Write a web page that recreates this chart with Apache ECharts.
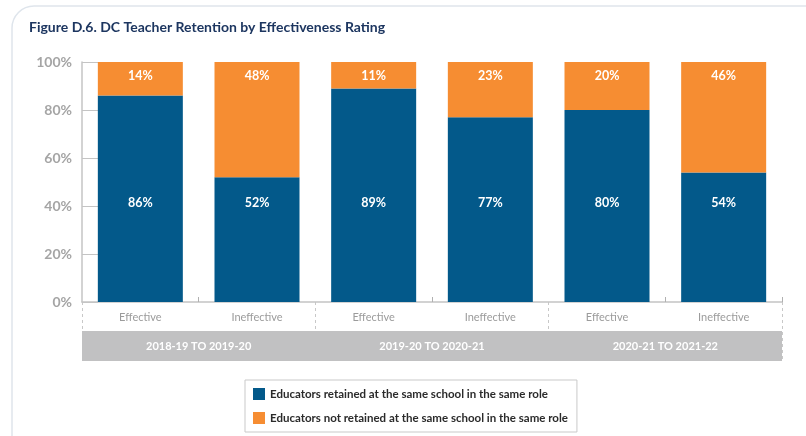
<!DOCTYPE html>
<html>
<head>
<meta charset="utf-8">
<script src="https://cdn.jsdelivr.net/npm/echarts@6/dist/echarts.min.js"></script>
<style>
  html, body { margin: 0; padding: 0; background: #ffffff; }
  #chart { width: 806px; height: 436px; }
</style>
</head>
<body>
<div id="chart"></div>
<script>
// Ratings within each pair of school years
const categories = ['Effective', 'Ineffective', 'Effective', 'Ineffective', 'Effective', 'Ineffective'];
const periods = ['2018-19 TO 2019-20', '2019-20 TO 2020-21', '2020-21 TO 2021-22'];
// Share of educators (%) per rating
const retained = [86, 52, 89, 77, 80, 54];
const notRetained = [14, 48, 11, 23, 20, 46];
const yTicks = [0, 20, 40, 60, 80, 100];

const BLUE = '#03598a';
const ORANGE = '#f68d32';
const FONT = 'Lato, "Open Sans", sans-serif';

const chart = echarts.init(document.getElementById('chart'), null, { renderer: 'canvas' });

chart.setOption({
  backgroundColor: '#ffffff',
  animation: false,
  title: {
    text: 'Figure D.6. DC Teacher Retention by Effectiveness Rating',
    left: 24,
    top: 15,
    textStyle: { fontFamily: FONT, fontSize: 14, fontWeight: 'bold', color: '#1d3660' }
  },
  graphic: [{
    type: 'rect',
    z: -10,
    silent: true,
    shape: { x: 12, y: 6, width: 830, height: 470, r: 22 },
    style: { fill: 'none', stroke: '#dfe5ec', lineWidth: 1.5 }
  }],
  legend: {
    orient: 'vertical',
    left: 245,
    top: 380,
    padding: [8, 9, 8, 8],
    itemWidth: 12,
    itemHeight: 12,
    itemGap: 12,
    borderColor: '#c9c9c9',
    borderWidth: 1,
    icon: 'rect',
    textStyle: { fontFamily: FONT, fontSize: 11.5, fontWeight: 'bold', color: '#2b2b2b' },
    data: [
      'Educators retained at the same school in the same role',
      'Educators not retained at the same school in the same role'
    ]
  },
  grid: [
    { left: 82, right: 24, top: 62, bottom: 134 },
    { left: 82, right: 24, top: 302, bottom: 75 }
  ],
  xAxis: [{
    type: 'category',
    gridIndex: 0,
    data: categories,
    axisLine: { lineStyle: { color: '#c4c4c4', width: 1.5 } },
    axisTick: {
      show: true,
      inside: true,
      length: 5,
      interval: function (i) { return i % 2 === 1; },
      lineStyle: { color: '#b0b0b0' }
    },
    axisLabel: { margin: 10, fontFamily: FONT, fontSize: 11, color: '#9b9b9b' }
  }, {
    type: 'category',
    gridIndex: 1,
    data: periods,
    position: 'bottom',
    offset: -15,
    axisLine: { lineStyle: { color: '#c1c1c2', width: 30, cap: 'butt' } },
    axisTick: { show: false },
    axisLabel: {
      margin: 0,
      verticalAlign: 'middle',
      fontFamily: FONT,
      fontSize: 11,
      fontWeight: 'bold',
      color: '#ffffff'
    },
    splitLine: { show: true, lineStyle: { color: '#c8c8c8', type: [3, 3], width: 1 } }
  }],
  yAxis: [{
    type: 'value',
    gridIndex: 0,
    min: yTicks[0],
    max: yTicks[yTicks.length - 1],
    interval: yTicks[1] - yTicks[0],
    axisLine: { show: true, lineStyle: { color: '#c4c4c4', width: 1.5 } },
    axisTick: { show: true, inside: true, length: 16, lineStyle: { color: '#c4c4c4' } },
    splitLine: { show: false },
    axisLabel: {
      margin: 10,
      formatter: '{value}%',
      fontFamily: FONT,
      fontSize: 14,
      fontWeight: 'bold',
      color: '#a5a5a5'
    }
  }, {
    type: 'value',
    gridIndex: 1,
    show: false
  }],
  series: [{
    name: 'Educators retained at the same school in the same role',
    type: 'bar',
    stack: 'share',
    xAxisIndex: 0,
    yAxisIndex: 0,
    barWidth: 85,
    itemStyle: { color: BLUE },
    label: {
      show: true,
      position: 'insideBottom',
      distance: 93,
      formatter: '{c}%',
      fontFamily: FONT,
      fontSize: 12.5,
      fontWeight: 'bold',
      color: '#ffffff'
    },
    data: retained
  }, {
    name: 'Educators not retained at the same school in the same role',
    type: 'bar',
    stack: 'share',
    xAxisIndex: 0,
    yAxisIndex: 0,
    barWidth: 85,
    itemStyle: { color: ORANGE },
    label: {
      show: true,
      position: 'insideTop',
      distance: 7,
      formatter: '{c}%',
      fontFamily: FONT,
      fontSize: 12.5,
      fontWeight: 'bold',
      color: '#ffffff'
    },
    data: notRetained
  }]
});
</script>
</body>
</html>
